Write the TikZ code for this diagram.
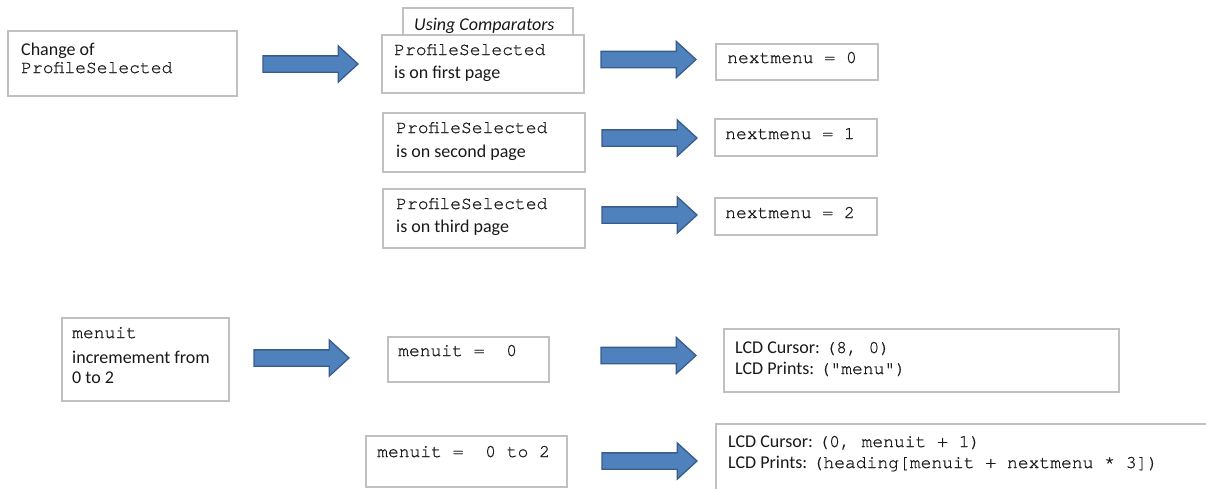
\documentclass[tikz,border=0pt]{standalone}
\usepackage{fontspec}
\setmainfont{Carlito}
\newfontfamily\cour[FakeBold=0.8]{TeX Gyre Cursor}
\usetikzlibrary{shapes.arrows}
\definecolor{boxline}{RGB}{192,192,192}
\definecolor{arrowfill}{RGB}{79,129,189}
\definecolor{arrowline}{RGB}{56,93,138}
\definecolor{ink}{RGB}{25,25,25}

\begin{document}
\begin{tikzpicture}[x=1pt,y=-1pt,
  frame/.style={draw=boxline, line width=1.4pt, fill=white, anchor=north west,
    inner sep=0pt, outer sep=0pt},
  txt/.style={anchor=base west, inner sep=0pt, text=ink,
    font=\fontsize{18}{22}\selectfont},
  code/.style={txt, font=\fontsize{18}{22}\selectfont\cour},
  blockarrow/.style={single arrow, draw=arrowline, line width=1.3pt, fill=arrowfill,
    inner sep=0pt, outer sep=0pt, text height=15pt, text depth=0pt,
    single arrow head extend=10pt, single arrow tip angle=85,
    anchor=tail, minimum height=95pt},
]
\useasboundingbox (0,0) rectangle (1206,488);
\clip (0,0) rectangle (1206,488);

% upper part: profile selection
\node[frame, minimum width=229pt, minimum height=65pt] (chg) at (8,31) {};
\node[txt] (chg-l1) at (21,55) {Change of};
\node[code] (chg-l2) at (21,73) {ProfileSelected};

\node[frame, minimum width=170pt, minimum height=40pt] (cmp) at (403,8) {};
\node[txt, font=\fontsize{18}{22}\selectfont\itshape] (cmp-l1) at (414,30) {Using Comparators};

\node[frame, minimum width=202pt, minimum height=58pt] (pg1) at (382,35) {};
\node[code] (pg1-l1) at (394,55) {ProfileSelected};
\node[txt] (pg1-l2) at (394,78) {is on first page};

\node[frame, minimum width=202pt, minimum height=59pt] (pg2) at (383,113) {};
\node[code] (pg2-l1) at (396,133) {ProfileSelected};
\node[txt] (pg2-l2) at (396,157) {is on second page};

\node[frame, minimum width=202pt, minimum height=59pt] (pg3) at (383,189) {};
\node[code] (pg3-l1) at (396,209) {ProfileSelected};
\node[txt] (pg3-l2) at (396,232) {is on third page};

\node[frame, minimum width=162pt, minimum height=36pt] (nm0) at (716,44) {};
\node[code] (nm0-l1) at (727,63) {nextmenu = 0};
\node[frame, minimum width=162pt, minimum height=37pt] (nm1) at (715,119) {};
\node[code] (nm1-l1) at (725,139) {nextmenu = 1};
\node[frame, minimum width=162pt, minimum height=37pt] (nm2) at (715,198) {};
\node[code] (nm2-l1) at (725,218) {nextmenu = 2};

\node[blockarrow] (a1) at (263,64) {};
\node[blockarrow] (a2) at (601,59.5) {};
\node[blockarrow] (a3) at (602,138) {};
\node[blockarrow] (a4) at (602,215) {};

% lower part: menu loop
\node[frame, minimum width=167pt, minimum height=83pt] (inc) at (62,318) {};
\node[code] (inc-l1) at (72,338) {menuit};
\node[txt] (inc-l2) at (72,363) {incremement from};
\node[txt] (inc-l3) at (72,383) {0 to 2};

\node[frame, minimum width=161pt, minimum height=45pt] (mu0) at (388,337) {};
\node[code] (mu0-l1) at (398,356) {menuit~=~~0};

\node[frame, minimum width=395pt, minimum height=63pt] (lcd1) at (724,329) {};
\node[txt] (lcd1-l1) at (735,353) {LCD Cursor: {\cour (8, 0)}};
\node[txt] (lcd1-l2) at (735,374) {LCD Prints: {\cour ("menu")}};

\node[frame, minimum width=201pt, minimum height=51pt] (mu2) at (366,436) {};
\node[code] (mu2-l1) at (377,457) {menuit~=~~0 to 2};

\node[frame, minimum width=520pt, minimum height=90pt] (lcd2) at (716,424) {};
\node[txt] (lcd2-l1) at (728,447) {LCD Cursor: {\cour (0, menuit + 1)}};
\node[txt] (lcd2-l2) at (728,468) {LCD Prints: {\cour (heading[menuit + nextmenu * 3])}};

\node[blockarrow] (a5) at (254,358) {};
\node[blockarrow] (a6) at (601,355.5) {};
\node[blockarrow] (a7) at (602,461) {};
\end{tikzpicture}
\end{document}
